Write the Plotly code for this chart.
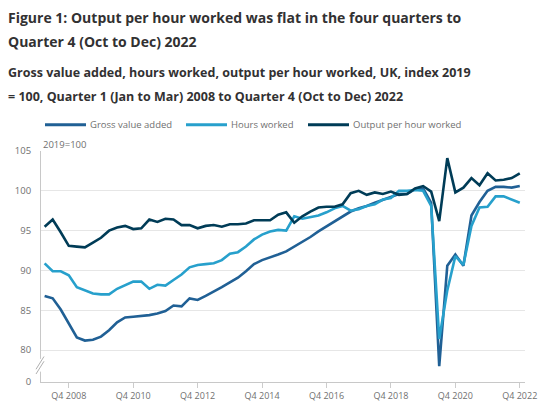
import plotly.graph_objects as go

years = list(range(2008, 2023))
quarters = [f"Q{q} {y}" for y in years for q in (1, 2, 3, 4)]

gva = [86.8, 86.5, 85.1, 83.3, 81.6, 81.2, 81.3, 81.7, 82.5, 83.5,
       84.1, 84.2, 84.3, 84.4, 84.6, 84.9, 85.6, 85.5, 86.5, 86.3,
       86.8, 87.3, 87.9, 88.5, 89.1, 89.9, 90.8, 91.3, 91.7, 92.0,
       92.4, 93.0, 93.5, 94.2, 94.9, 95.5, 96.1, 96.7, 97.4, 97.8,
       98.1, 98.5, 98.9, 99.2, 99.6, 99.6, 100.2, 100.3, 98.5, 78.0,
       90.6, 92.0, 90.6, 96.9, 98.6, 100.0, 100.5, 100.5, 100.4, 100.6]

hours = [90.9, 89.9, 89.9, 89.4, 87.9, 87.5, 87.1, 87.0, 87.0, 87.7,
         88.2, 88.6, 88.6, 87.7, 88.2, 88.1, 88.8, 89.5, 90.4, 90.7,
         90.8, 90.9, 91.3, 92.1, 92.3, 93.0, 93.9, 94.5, 94.9, 95.1,
         95.0, 96.8, 96.5, 96.7, 96.9, 97.3, 97.8, 98.1, 97.5, 97.7,
         98.1, 98.3, 98.9, 99.1, 100.0, 100.0, 100.1, 100.0, 98.1, 81.4,
         87.5, 91.8, 90.7, 95.6, 97.9, 98.0, 99.3, 99.3, 98.9, 98.5]

oph = [95.5, 96.4, 94.8, 93.1, 93.0, 92.9, 93.5, 94.1, 95.0, 95.4,
       95.6, 95.2, 95.3, 96.4, 96.1, 96.5, 96.4, 95.7, 95.7, 95.3,
       95.6, 95.7, 95.5, 95.8, 95.8, 95.9, 96.3, 96.3, 96.3, 97.0,
       97.3, 96.0, 96.8, 97.4, 97.9, 98.0, 98.0, 98.3, 99.7, 100.0,
       99.5, 99.8, 99.6, 99.9, 99.5, 99.6, 100.3, 100.6, 99.9, 96.2,
       104.1, 99.8, 100.4, 101.6, 100.7, 102.2, 101.3, 101.4, 101.6, 102.2]

series_names = ["Gross value added", "Hours worked", "Output per hour worked"]
series_colors = ["#206095", "#27a0cc", "#003c57"]

x_tick_labels = ["Q4 2008", "Q4 2010", "Q4 2012", "Q4 2014",
                 "Q4 2016", "Q4 2018", "Q4 2020", "Q4 2022"]
y_tick_vals = [76, 80, 85, 90, 95, 100, 105]
y_tick_text = ["0", "80", "85", "90", "95", "100", "105"]

title_lines = ["Figure 1: Output per hour worked was flat in the four quarters to",
               "Quarter 4 (Oct to Dec) 2022"]
subtitle_lines = ["Gross value added, hours worked, output per hour worked, UK, index 2019",
                  "= 100, Quarter 1 (Jan to Mar) 2008 to Quarter 4 (Oct to Dec) 2022"]

W, H = 550, 414
L, R, T, B = 41, 25, 151, 26
PW, PH = W - L - R, H - T - B

def pxx(p):
    return (p - L) / PW

def pyy(p):
    return (H - B - p) / PH

fig = go.Figure()
for name, vals, col in zip(series_names, [gva, hours, oph], series_colors):
    fig.add_trace(go.Scatter(x=quarters, y=vals, mode="lines", name=name,
                             line=dict(color=col, width=2.6), showlegend=False))

FONT = "Open Sans"
TXT = "#707070"
annotations = []
for i, line in enumerate(title_lines):
    annotations.append(dict(text=f"<b>{line}</b>", x=pxx(6), y=pyy(14 + 24.5 * i),
                            xref="paper", yref="paper", xanchor="left", yanchor="middle",
                            showarrow=False, font=dict(family=FONT, size=14, color="#323132")))
for i, line in enumerate(subtitle_lines):
    annotations.append(dict(text=f"<b>{line}</b>", x=pxx(6), y=pyy(70.5 + 24.5 * i),
                            xref="paper", yref="paper", xanchor="left", yanchor="middle",
                            showarrow=False, font=dict(family=FONT, size=12.5, color="#323132")))

shapes = []
leg_x = [45, 186, 308]
for lx, name, col in zip(leg_x, series_names, series_colors):
    shapes.append(dict(type="line", xref="paper", yref="paper",
                       x0=pxx(lx), x1=pxx(lx + 41), y0=pyy(124), y1=pyy(124),
                       line=dict(color=col, width=3)))
    annotations.append(dict(text=name, x=pxx(lx + 43), y=pyy(124), xref="paper", yref="paper",
                            xanchor="left", yanchor="middle", showarrow=False,
                            font=dict(family=FONT, size=9.5, color=TXT)))

annotations.append(dict(text="2019=100", x=0, y=pyy(144), xref="paper", yref="paper",
                        xanchor="left", yanchor="middle", showarrow=False,
                        font=dict(family=FONT, size=9.5, color=TXT)))

# axis break marker on the y axis
shapes.append(dict(type="rect", xref="paper", yref="y", xsizemode="pixel", xanchor=0,
                   x0=-2, x1=2, y0=77.3, y1=78.9, fillcolor="white",
                   line=dict(width=0), layer="above"))
for dy in (0.0, 0.6):
    shapes.append(dict(type="line", xref="paper", yref="y", xsizemode="pixel", xanchor=0,
                       x0=-5, x1=3, y0=77.0 + dy, y1=78.6 + dy,
                       line=dict(color="#b0b0b0", width=1), layer="above"))

fig.update_layout(
    width=W, height=H,
    margin=dict(l=L, r=R, t=T, b=B),
    paper_bgcolor="white", plot_bgcolor="white",
    annotations=annotations, shapes=shapes,
    showlegend=False,
    font=dict(family=FONT, color=TXT),
)
fig.update_xaxes(
    type="category", categoryorder="array", categoryarray=quarters,
    range=[-0.45, 59.65],
    tickmode="array", tickvals=x_tick_labels, ticktext=x_tick_labels,
    ticks="outside", ticklen=5, tickcolor="#cccccc",
    tickfont=dict(family=FONT, size=9, color=TXT),
    showgrid=False, showline=True, linecolor="#c8c8c8", linewidth=1,
    zeroline=False,
)
fig.update_yaxes(
    range=[76, 105],
    tickmode="array", tickvals=y_tick_vals, ticktext=y_tick_text,
    ticks="", ticklabelstandoff=7,
    tickfont=dict(family=FONT, size=9.5, color=TXT),
    showgrid=True, gridcolor="#e6e6e6", gridwidth=1,
    showline=True, linecolor="#c8c8c8", linewidth=1,
    zeroline=False,
)

fig.write_html("out.html",
               config={"displayModeBar": False},
               post_script="document.body.style.margin='0';document.body.style.overflow='hidden';")
